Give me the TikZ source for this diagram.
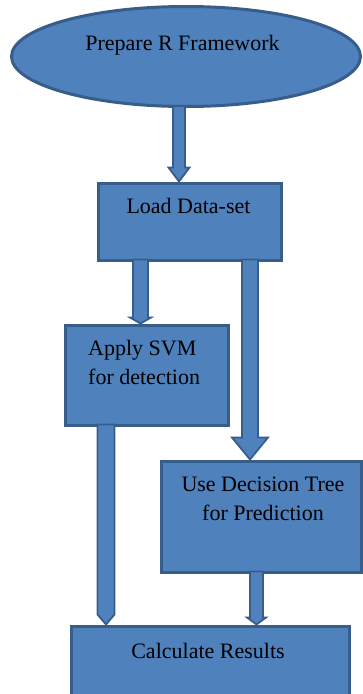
\documentclass[tikz,border=0pt]{standalone}
\usepackage{fontspec}
\setmainfont{Liberation Serif}
\newfontfamily\diagfont{Liberation Serif}
\usetikzlibrary{shapes.geometric,calc}
\definecolor{boxfill}{HTML}{4F81BD}
\definecolor{boxline}{HTML}{385D8A}
\newcommand\blockarr[6]{%
  \path (#1,0 |- #2) coordinate (s) (#1,0 |- #3) coordinate (e);
  \draw[blockarrow] ($(s)+(-#4,-2)$) -- ($(e)+(-#4,-#6)$) -- ($(e)+(-#5,-#6)$) -- (e)
    -- ($(e)+(#5,-#6)$) -- ($(e)+(#4,-#6)$) -- ($(s)+(#4,-2)$) -- cycle;}
\begin{document}
\begin{tikzpicture}[x=1pt,y=-1pt,
  shapebox/.style={draw=boxline, fill=boxfill, line width=3pt, inner sep=0pt},
  lbl/.style={font=\diagfont\fontsize{22}{29}\selectfont, inner sep=0pt, text=black},
  blockarrow/.style={draw=boxline, fill=boxfill, line width=1.8pt, line join=miter}]
\useasboundingbox (0,0) rectangle (363,694);
% shapes
\node[shapebox, ellipse, minimum width=349pt, minimum height=100pt] (prep) at (186,56.5) {};
\node[shapebox, rectangle, minimum width=183pt, minimum height=77pt] (load) at (189.5,221.5) {};
\node[shapebox, rectangle, minimum width=163pt, minimum height=100pt] (svm) at (146.5,375) {};
\node[shapebox, rectangle, minimum width=200.5pt, minimum height=111pt] (tree) at (261.25,516.5) {};
\node[shapebox, rectangle, minimum width=278pt, minimum height=84pt] (calc) at (210,668) {};
% arrows
\blockarr{179}{prep.south}{load.north}{6}{10.5}{14}
\blockarr{140.5}{load.south}{svm.north}{7.5}{10.5}{6}
\blockarr{250}{load.south}{tree.north}{8}{18}{22}
\blockarr{106}{svm.south}{calc.north}{8.5}{8.5}{10}
\blockarr{256.5}{tree.south}{calc.north}{6.5}{9.5}{7}
% texts
\node[lbl, anchor=base] (prep-t) at (182.5,50) {Prepare R Framework};
\node[lbl, anchor=base] (load-t) at (188.5,213) {Load Data-set};
\node[lbl, anchor=north west, align=left] (svm-t) at (88,340) {Apply SVM\\for detection};
\node[lbl, anchor=north, align=center] (tree-t) at (263,477) {Use Decision Tree\\for Prediction};
\node[lbl, anchor=base] (calc-t) at (208,658) {Calculate Results};
\end{tikzpicture}
\end{document}
